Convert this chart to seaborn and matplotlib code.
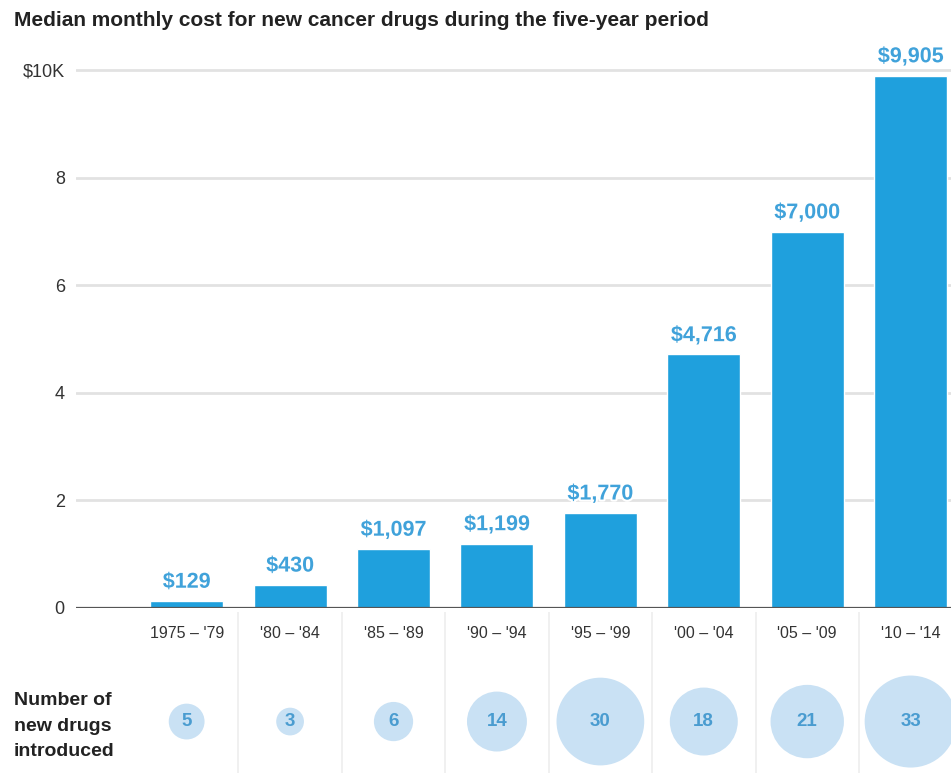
import numpy as np
import pandas as pd
import matplotlib
matplotlib.use("Agg")
import matplotlib.pyplot as plt
import seaborn as sns
import matplotlib.patheffects as pe

periods = ["1975 – '79", "'80 – '84", "'85 – '89", "'90 – '94", "'95 – '99",
           "'00 – '04", "'05 – '09", "'10 – '14"]
median_cost = [129, 430, 1097, 1199, 1770, 4716, 7000, 9905]
new_drugs = [5, 3, 6, 14, 30, 18, 21, 33]
ytick_vals = [0, 2, 4, 6, 8, 10]
ytick_labels = ["0", "2", "4", "6", "8", "$10K"]
title = "Median monthly cost for new cancer drugs during the five-year period"

sns.set_theme(style="white")
plt.rcParams['font.family'] = ['Liberation Sans', 'DejaVu Sans']

BAR = "#1fa0dd"
LABEL = "#40a2da"
BUB = "#c9e1f4"
BUBTXT = "#4a9cd0"

df = pd.DataFrame({"period": periods, "cost": np.array(median_cost) / 1000.0,
                   "drugs": new_drugs, "pos": np.arange(len(periods))})

fig = plt.figure(figsize=(9.51, 7.73), dpi=100)
ax = fig.add_axes([0.0799, 0.2135, 0.9201, 0.7301])

for v in ytick_vals[1:]:
    ax.axhline(v, color="#e2e2e2", lw=2, zorder=0)

sns.barplot(data=df, x="period", y="cost", color=BAR, width=0.705,
            saturation=1, ax=ax, zorder=2)
ax.axhline(0, color="#555555", lw=1.6, zorder=3)

for i, c in enumerate(median_cost):
    ax.text(i, c / 1000.0 + 0.35, f"${c:,}", ha="center", va="center",
            fontsize=15.5, fontweight="bold", color=LABEL, zorder=4,
            path_effects=[pe.withStroke(linewidth=3, foreground="white")])

ax.set_xlim(-1.07, len(periods) - 1 + 0.39)
ax.set_ylim(0, 10.5)
ax.set_yticks(ytick_vals)
ax.set_yticklabels(ytick_labels, fontsize=13, color="#333333")
ax.tick_params(axis="y", length=0, pad=8)
ax.tick_params(axis="x", length=0, pad=13, labelsize=11.5, labelcolor="#333333")
ax.set_xlabel("")
ax.set_ylabel("")
for s in ax.spines.values():
    s.set_visible(False)

fig.text(0.0147, 0.974, title, fontsize=15, fontweight="bold",
         color="#222222", ha="left", va="center")

# bubble row
ax2 = fig.add_axes([0.0799, 0.0, 0.9201, 0.208])
ax2.set_xlim(ax.get_xlim())
ax2.set_ylim(0, 1)
for i in range(len(periods) - 1):
    ax2.axvline(i + 0.5, color="#eeeeee", lw=1.2, zorder=0)
df["yb"] = 0.32
sns.scatterplot(data=df, x="pos", y="yb", size="drugs",
                sizes=(min(new_drugs) * 133, max(new_drugs) * 133),
                color=BUB, edgecolor="none", legend=False, ax=ax2, zorder=2)
for i, n in enumerate(new_drugs):
    ax2.text(i, 0.32, str(n), ha="center", va="center", fontsize=13.5,
             fontweight="bold", color=BUBTXT, zorder=3)
ax2.set_axis_off()

fig.text(0.0147, 0.0605, "Number of\nnew drugs\nintroduced", fontsize=14,
         fontweight="bold", color="#222222", ha="left", va="center",
         linespacing=1.65)

fig.savefig("out.png", dpi=100)
